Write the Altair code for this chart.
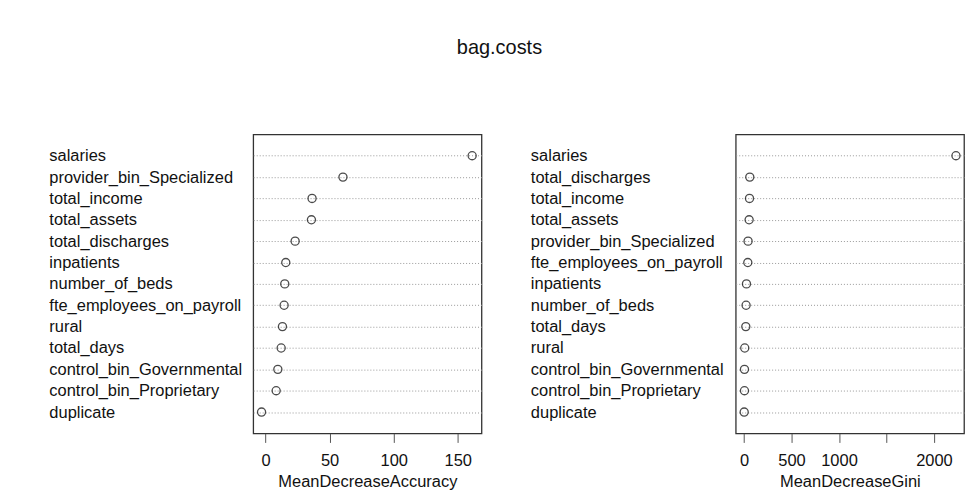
import altair as alt
import pandas as pd

# Variable importance of the bagged cost model, ordered as plotted (top to bottom)
acc_vars = [
    "salaries", "provider_bin_Specialized", "total_income", "total_assets",
    "total_discharges", "inpatients", "number_of_beds", "fte_employees_on_payroll",
    "rural", "total_days", "control_bin_Governmental", "control_bin_Proprietary",
    "duplicate",
]
acc_vals = [161.2, 60.4, 36.3, 35.8, 23.1, 15.8, 15.0, 14.5, 13.2, 12.2, 9.6, 8.3, -3.1]

gini_vars = [
    "salaries", "total_discharges", "total_income", "total_assets",
    "provider_bin_Specialized", "fte_employees_on_payroll", "inpatients",
    "number_of_beds", "total_days", "rural", "control_bin_Governmental",
    "control_bin_Proprietary", "duplicate",
]
gini_vals = [2232, 60, 57, 53, 42, 39, 25, 21, 18, 7, 4, 4, 1]

acc_ticks = [0, 50, 100, 150]
gini_ticks = [0, 500, 1000, 1500, 2000]

FONT = "Liberation Sans"
FS = 16.5


def dotchart(names, values, title, domain, ticks, label_expr=None, label_pad=205):
    df = pd.DataFrame({"var": names, "value": values})
    x_axis = dict(
        values=ticks, title=title, grid=False, domain=False, format="d",
        tickSize=9, tickColor="#555555", tickWidth=1,
        labelFontSize=FS, labelColor="#111111", labelPadding=10,
        titleFontSize=FS, titleFontWeight="normal", titleColor="#111111",
        titlePadding=5, labelFont=FONT, titleFont=FONT,
    )
    if label_expr:
        x_axis["labelExpr"] = label_expr
    return (
        alt.Chart(df)
        .mark_point(shape="circle", filled=False, size=66, color="black", strokeWidth=1.3)
        .encode(
            x=alt.X("value:Q", scale=alt.Scale(domain=domain, nice=False, zero=False),
                    axis=alt.Axis(**x_axis)),
            y=alt.Y("var:N", sort=names,
                    scale=alt.Scale(type="point", padding=1),
                    axis=alt.Axis(title=None, ticks=False, tickSize=0, domain=False,
                                  labelAlign="left", labelPadding=label_pad,
                                  labelLimit=400, labelFontSize=FS, labelFont=FONT,
                                  labelColor="#111111",
                                  grid=True, gridDash=[1, 2], gridColor="#999999",
                                  gridWidth=1)),
        )
        .properties(width=229, height=300)
    )


left = dotchart(acc_vars, acc_vals, "MeanDecreaseAccuracy", [-9.6, 168.5], acc_ticks,
                label_pad=205)
right = dotchart(gini_vars, gini_vals, "MeanDecreaseGini", [-88, 2317], gini_ticks,
                 label_expr="datum.value == 1500 ? '' : datum.label", label_pad=206)

chart = (
    alt.hconcat(left, right, spacing=47)
    .properties(
        title=alt.TitleParams("bag.costs", fontSize=20, fontWeight="normal",
                              font=FONT, color="#111111", anchor="middle", offset=76,
                              dx=-7),
        padding={"left": 48, "top": 37, "right": 10, "bottom": 5},
        background="white",
    )
    .configure_view(stroke="#333333", strokeWidth=1.3)
)

chart.save("out.html", embed_options={"renderer": "svg", "actions": False})
